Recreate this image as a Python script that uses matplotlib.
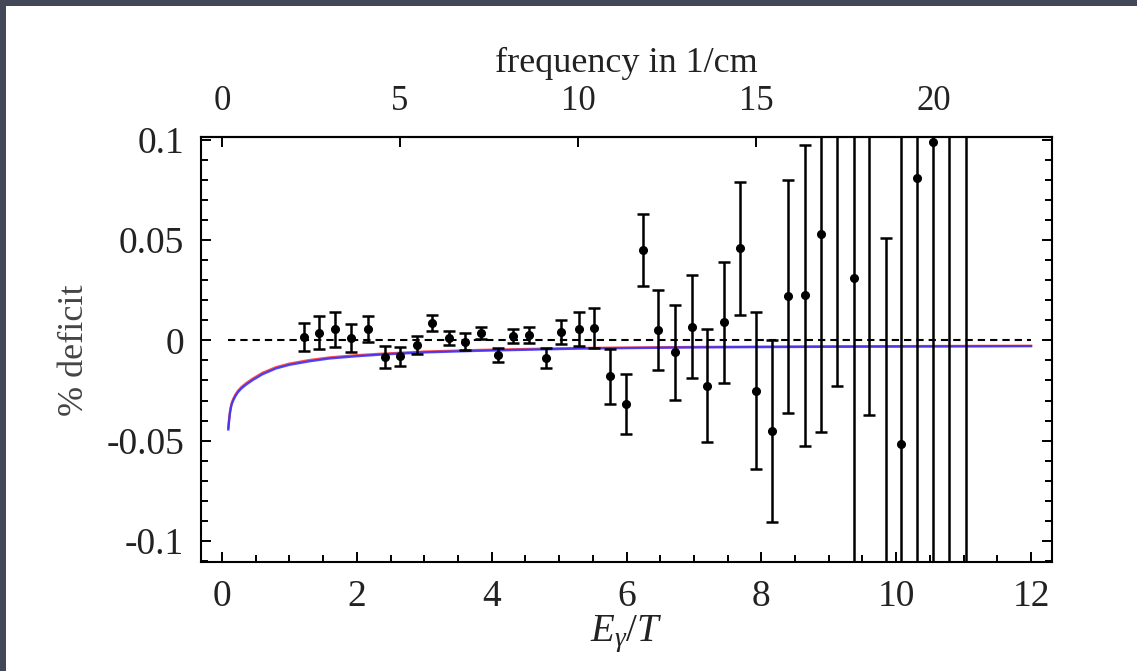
import numpy as np
import matplotlib.pyplot as plt
from matplotlib.patches import Rectangle
from matplotlib.ticker import FixedLocator, MultipleLocator

plt.rcParams['font.family'] = 'Liberation Serif'
plt.rcParams['mathtext.fontset'] = 'custom'
plt.rcParams['mathtext.rm'] = 'Liberation Serif'
plt.rcParams['mathtext.it'] = 'Liberation Serif:italic'
plt.rcParams['axes.unicode_minus'] = False

# conversion E/T -> frequency in 1/cm (T = 2.725 K)
freq_per_E = 1.894

# data points
e_pts = [1.21, 1.44, 1.68, 1.92, 2.17, 2.42, 2.64, 2.89, 3.12, 3.36,
         3.60, 3.84, 4.09, 4.31, 4.56, 4.80, 5.03, 5.29, 5.52, 5.76,
         5.99, 6.24, 6.47, 6.72, 6.97, 7.19, 7.44, 7.68, 7.92, 8.16,
         8.40, 8.65, 8.88, 9.12, 9.37, 9.60, 9.85, 10.07, 10.31, 10.55,
         10.79, 11.03]
deficit = [0.0019, 0.0039, 0.0056, 0.0011, 0.0056, -0.0084, -0.0080, -0.0024, 0.0086, 0.0011,
           -0.0006, 0.0038, -0.0072, 0.0021, 0.0027, -0.0089, 0.0041, 0.0055, 0.0061, -0.0180,
           -0.0318, 0.0450, 0.0052, -0.0060, 0.0069, -0.0225, 0.0090, 0.0458, -0.0250, -0.0452,
           0.0220, 0.0225, 0.0528, 0.115, 0.031, 0.125, -0.135, -0.0517, 0.0807, 0.099,
           0.15, -0.20]
err = [0.0070, 0.0080, 0.0087, 0.0070, 0.0063, 0.0055, 0.0047, 0.0046, 0.0040, 0.0035,
       0.0041, 0.0031, 0.0035, 0.0035, 0.0038, 0.0050, 0.0060, 0.0085, 0.0100, 0.0135,
       0.0150, 0.0180, 0.0200, 0.0235, 0.0255, 0.0280, 0.0300, 0.0332, 0.0390, 0.0452,
       0.0580, 0.0750, 0.0985, 0.1375, 0.160, 0.162, 0.186, 0.200, 0.220, 0.250,
       0.300, 0.350]

# model curves (red upper, blue lower)
e_curve = [0.094, 0.10, 0.11, 0.12, 0.135, 0.15, 0.17, 0.2, 0.24, 0.29,
           0.36, 0.45, 0.6, 0.8, 1.0, 1.3, 1.6, 2.0, 2.4, 3.0,
           3.8, 5.3, 7.0, 9.0, 12.0]
red_curve = [-0.0437, -0.0412, -0.0378, -0.0352, -0.0324, -0.0306, -0.0290, -0.0270, -0.0250, -0.0232,
             -0.0213, -0.0192, -0.0162, -0.0134, -0.0116, -0.0098, -0.0085, -0.0074, -0.0066, -0.0056,
             -0.0048, -0.0038, -0.0033, -0.0030, -0.0027]
blue_curve = [-0.0444, -0.0419, -0.0385, -0.0359, -0.0331, -0.0313, -0.0297, -0.0277, -0.0257, -0.0239,
              -0.0220, -0.0199, -0.0169, -0.0140, -0.0122, -0.0104, -0.0090, -0.0079, -0.0070, -0.0060,
              -0.0052, -0.0041, -0.0035, -0.0032, -0.0029]

yticks = [-0.1, -0.05, 0, 0.05, 0.1]
ytick_labels = ['-0.1', '-0.05', '0', '0.05', '0.1']
xticks = [0, 2, 4, 6, 8, 10, 12]
ftick = [0, 5, 10, 15, 20]

fig = plt.figure(figsize=(11.37, 6.71), dpi=100)
fig.patch.set_facecolor('#434858')
fig.patches.append(Rectangle((6 / 1137, 0), 1, (671 - 6) / 671, transform=fig.transFigure,
                             facecolor='white', edgecolor='none', zorder=-5))

ax = fig.add_axes([0.1765, 0.1617, 0.7487, 0.6337])
ax.set_facecolor('white')

ax.plot([e_curve[0], e_curve[-1]], [0, 0], color='black', lw=1.5, ls=(0, (3.5, 2.4)))
ax.plot(e_curve, red_curve, color='#ff3030', lw=1.7, alpha=0.85)
ax.plot(e_curve, blue_curve, color='#3030ff', lw=1.7, alpha=0.85)
ax.errorbar(e_pts, deficit, yerr=err, fmt='o', color='black', ms=5.5, elinewidth=1.8,
            capsize=4, capthick=1.8)

ax.set_xlim(-0.316, 12.31)
ax.set_ylim(-0.1107, 0.1012)

ax.xaxis.set_major_locator(FixedLocator(xticks))
ax.xaxis.set_minor_locator(MultipleLocator(0.5))
ax.yaxis.set_major_locator(FixedLocator(yticks))
ax.set_yticklabels(ytick_labels)
ax.yaxis.set_minor_locator(MultipleLocator(0.01))

ax.tick_params(which='both', direction='in', top=False, right=True, width=1.4,
               labelsize=27, labelcolor='#222222', pad=12)
ax.tick_params(which='major', length=7)
ax.tick_params(which='minor', length=5)
for s in ax.spines.values():
    s.set_linewidth(1.5)

ax.set_xlabel('$E_\\gamma/T$', fontsize=28, color='#222222', labelpad=0)
ax.set_ylabel('% deficit', fontsize=26, color='#444444', labelpad=11)

top = ax.secondary_xaxis('top', functions=(lambda e: e * freq_per_E, lambda f: f / freq_per_E))
top.xaxis.set_major_locator(FixedLocator(ftick))
top.xaxis.set_minor_locator(FixedLocator([]))
top.tick_params(direction='in', length=7, width=1.4, labelsize=25, labelcolor='#222222', pad=14)
top.spines['top'].set_linewidth(1.5)
top.set_xlabel('frequency in 1/cm', fontsize=26, color='#222222', labelpad=9)

fig.savefig('out.png', dpi=100, facecolor=fig.get_facecolor())
